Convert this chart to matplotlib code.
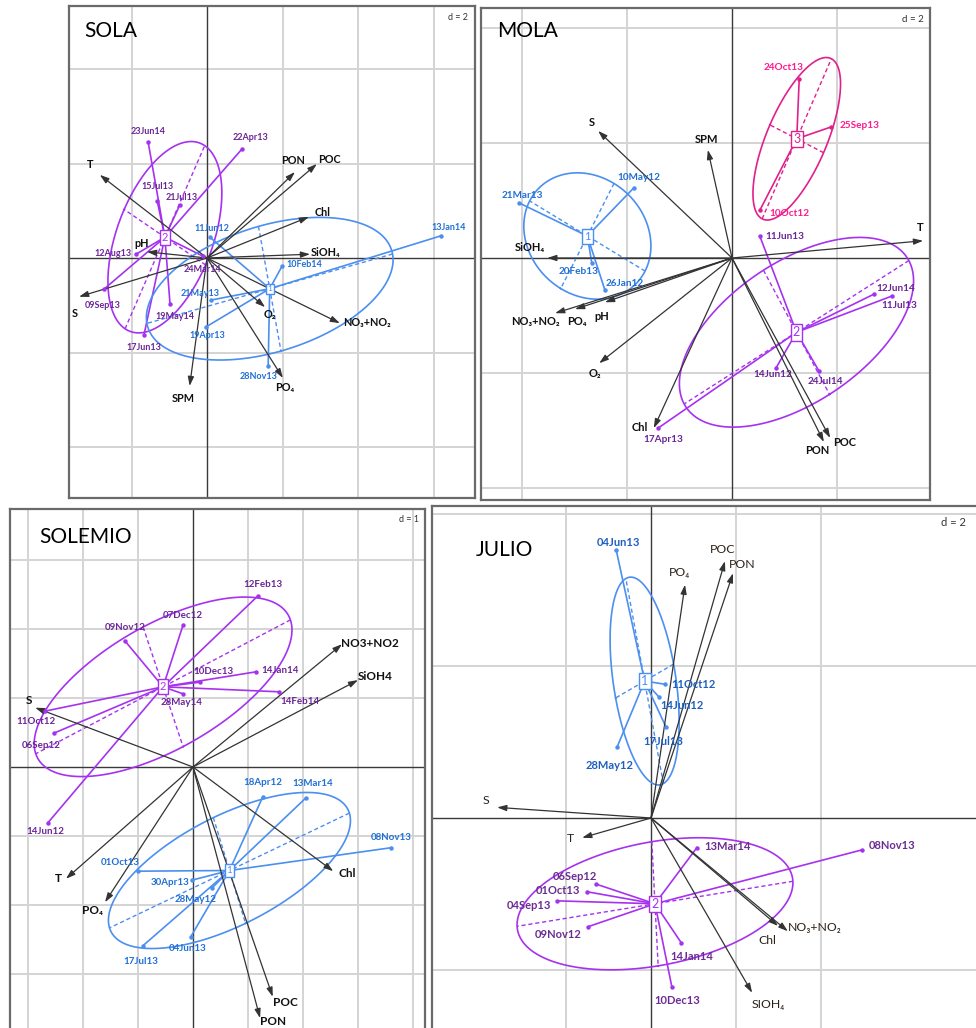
import numpy as np
import matplotlib
matplotlib.use('Agg')
import matplotlib.pyplot as plt

plt.rcParams['font.family'] = ['Lato', 'DejaVu Sans']

W, H = 976, 1028

BLUE, BLUE_TXT = '#4b8ff0', '#1f6fd6'
PURPLE, PURPLE_TXT = '#a632f0', '#6a2596'
PINK, PINK_TXT = '#e0208c', '#ff1a8c'
ARROW = '#333333'

# ---------------- SOLA ----------------
sola_vars = ['T', 'S', 'pH', 'SPM', 'PON', 'POC', 'Chl', 'SiOH₄', 'O₂', 'NO₃+NO₂', 'PO₄']
sola_var_x = [-2.84, -3.39, -1.59, -0.46, 2.33, 2.91, 2.70, 2.73, 1.54, 3.52, 2.01]
sola_var_y = [1.76, -0.82, 0.13, -2.71, 1.82, 1.99, 0.87, 0.08, -1.04, -1.38, -2.54]

sola_g1_dates = ['11Jun12', '13Jan14', '10Feb14', '21May13', '19Apr13', '28Nov13']
sola_g1_x = [0.08, 6.20, 1.99, 0.11, -0.03, 1.62]
sola_g1_y = [0.44, 0.47, -0.17, -0.89, -1.46, -2.29]

sola_g2_dates = ['23Jun14', '22Apr13', '15Jul13', '21Jul13', '12Aug13',
                 '09Sep13', '17Jun13', '19May14', '24Mar14']
sola_g2_x = [-1.56, 0.93, -1.32, -0.72, -1.88, -2.73, -1.67, -0.98, -0.11]
sola_g2_y = [2.46, 2.31, 1.21, 1.12, 0.08, -0.66, -1.63, -0.97, 0.04]

# ---------------- MOLA ----------------
mola_vars = ['S', 'SPM', 'SiOH₄', 'NO₃+NO₂', 'PO₄', 'pH', 'O₂', 'Chl', 'T', 'PON', 'POC']
mola_var_x = [-2.55, -0.46, -3.52, -3.37, -2.99, -2.42, -2.53, -1.49, 3.64, 1.75, 1.87]
mola_var_y = [2.21, 1.88, 0.0, -0.96, -0.89, -0.77, -1.83, -2.96, 0.30, -3.20, -3.13]

mola_g1_dates = ['21Mar13', '10May12', '20Feb13', '26Jan12']
mola_g1_x = [-4.06, -1.87, -2.67, -2.42]
mola_g1_y = [0.96, 1.22, -0.09, -0.56]

mola_g2_dates = ['11Jun13', '12Jun14', '11Jul13', '14Jun12', '24Jul14', '17Apr13']
mola_g2_x = [0.53, 2.70, 3.05, 0.84, 1.66, -1.41]
mola_g2_y = [0.38, -0.63, -0.66, -1.91, -1.97, -2.96]

mola_g3_dates = ['24Oct13', '25Sep13', '10Oct12']
mola_g3_x = [1.28, 1.89, 0.53]
mola_g3_y = [3.11, 2.28, 0.83]

# ---------------- SOLEMIO ----------------
solemio_vars = ['S', 'NO3+NO2', 'SiOH4', 'T', 'PO₄', 'Chl', 'POC', 'PON']
solemio_var_x = [-2.87, 2.71, 3.00, -2.31, -1.60, 2.55, 1.45, 1.22]
solemio_var_y = [0.86, 1.78, 1.26, -1.62, -1.96, -1.51, -3.33, -3.64]

solemio_g1_dates = ['18Apr12', '13Mar14', '08Nov13', '01Oct13', '30Apr13',
                    '28May12', '04Jun13', '17Jul13']
solemio_g1_x = [1.27, 2.05, 3.60, -1.00, -0.02, 0.35, -0.04, -0.91]
solemio_g1_y = [-0.43, -0.45, -1.17, -1.51, -1.64, -1.75, -2.46, -2.59]

solemio_g2_dates = ['12Feb13', '07Dec12', '09Nov12', '10Dec13', '14Jan14',
                    '14Feb14', '28May14', '11Oct12', '06Sep12', '14Jun12']
solemio_g2_x = [1.18, -0.18, -1.24, 0.13, 1.15, 1.56, -0.18, -2.69, -2.53, -2.64]
solemio_g2_y = [2.48, 2.06, 1.83, 1.23, 1.38, 1.09, 1.06, 0.81, 0.49, -0.81]

# ---------------- JULIO ----------------
julio_vars = ['PO₄', 'POC', 'PON', 'S', 'T', 'Chl', 'NO₃+NO₂', 'SIOH₄']
julio_var_x = [0.80, 1.74, 1.93, -3.62, -1.62, 2.99, 3.22, 2.38]
julio_var_y = [3.07, 3.38, 3.22, 0.14, -0.26, -1.42, -1.49, -2.30]

julio_g1_dates = ['04Jun13', '11Oct12', '14Jun12', '17Jul13', '28May12']
julio_g1_x = [-0.82, 0.33, 0.19, 0.35, -0.80]
julio_g1_y = [3.53, 1.76, 1.59, 1.20, 0.93]

julio_g2_dates = ['13Mar14', '08Nov13', '06Sep12', '01Oct13', '04Sep13',
                  '09Nov12', '14Jan14', '10Dec13']
julio_g2_x = [1.08, 4.96, -1.29, -1.51, -2.21, -1.48, 0.71, 0.49]
julio_g2_y = [-0.39, -0.42, -0.87, -0.97, -1.09, -1.43, -1.64, -2.22]

# label offsets in pixels (dx, dy up), layout only
sola_nudge = {
    'T': (-10, 10), 'S': (-4, -17), 'pH': (-5, 8), 'SPM': (-6, -12), 'PON': (-2, 12),
    'POC': (13, 4), 'Chl': (14, 4), 'SiOH₄': (15, 2), 'O₂': (5, -7), 'NO₃+NO₂': (27, 1),
    'PO₄': (2, -9),
    '23Jun14': (0, 10), '22Apr13': (8, 11), '15Jul13': (0, 14), '21Jul13': (2, 8),
    '12Aug13': (-23, 1), '09Sep13': (-1, -16), '17Jun13': (0, -12), '19May14': (5, -13),
    '24Mar14': (0, -13),
    '11Jun12': (2, 9), '13Jan14': (8, 8), '10Feb14': (22, 2), '21May13': (-11, 7),
    '19Apr13': (1, -9), '28Nov13': (-10, -10),
}
mola_nudge = {
    'S': (-6, 8), 'SPM': (-1, 10), 'SiOH₄': (-17, 11), 'NO₃+NO₂': (-20, -8), 'PO₄': (2, -12),
    'pH': (-3, -14), 'O₂': (-4, -10), 'Chl': (-14, 1), 'T': (-3, 13), 'PON': (-7, -8),
    'POC': (14, -5),
    '21Mar13': (3, 7), '10May12': (5, 10), '20Feb13': (-13, -8), '26Jan12': (20, 7),
    '24Oct13': (-16, 12), '25Sep13': (28, 1), '10Oct12': (30, -3),
    '11Jun13': (25, 0), '12Jun14': (22, 6), '11Jul13': (7, -10), '14Jun12': (-3, -7),
    '24Jul14': (6, -10), '17Apr13': (5, -11),
}
solemio_nudge = {
    'S': (-6, 7), 'NO3+NO2': (28, 1), 'SiOH4': (17, 4), 'T': (-8, 0), 'PO₄': (-12, -8),
    'Chl': (14, -2), 'POC': (13, -6), 'PON': (13, -3),
    '12Feb13': (5, 11), '07Dec12': (0, 9), '09Nov12': (0, 13), '10Dec13': (13, 11),
    '14Jan14': (24, 1), '14Feb14': (21, -10), '28May14': (-2, -9), '11Oct12': (-9, -10),
    '06Sep12': (-13, -12), '14Jun12': (-3, -9),
    '18Apr12': (0, 14), '13Mar14': (7, 15), '08Nov13': (0, 10), '01Oct13': (-18, 9),
    '30Apr13': (-22, -2), '28May12': (-17, -12), '04Jun13': (-3, -12), '17Jul13': (-2, -16),
}
julio_nudge = {
    'PO₄': (-6, 12), 'POC': (-2, 12), 'PON': (9, 9), 'S': (-11, 7), 'T': (-12, -1),
    'Chl': (-11, -15), 'NO₃+NO₂': (27, 4), 'SIOH₄': (16, -12),
    '04Jun13': (2, 7), '11Oct12': (28, 0), '14Jun12': (23, -8), '17Jul13': (-3, -15),
    '28May12': (-7, -18),
    '13Mar14': (31, 1), '08Nov13': (30, 4), '06Sep12': (-21, 8), '01Oct13': (-29, 1),
    '04Sep13': (-28, -5), '09Nov12': (-30, -8), '14Jan14': (11, -14), '10Dec13': (5, -14),
}


def make_panel(fig, frame, origin, unit, d, xgrid=None, ygrid=None):
    l, t, r, b = frame
    ox, oy = origin
    ux, uy = unit
    ax = fig.add_axes([l / W, 1 - b / H, (r - l) / W, (b - t) / H])
    x0, x1 = (l - ox) / ux, (r - ox) / ux
    y0, y1 = (oy - b) / uy, (oy - t) / uy
    ax.set_xlim(x0, x1)
    ax.set_ylim(y0, y1)
    if xgrid is None:
        xgrid = [v for v in np.arange(np.ceil(x0 / d) * d, x1, d) if abs(v) > 1e-9]
    if ygrid is None:
        ygrid = [v for v in np.arange(np.ceil(y0 / d) * d, y1, d) if abs(v) > 1e-9]
    for v in xgrid:
        ax.axvline(v, color='#d4d4d4', lw=1.4, zorder=0)
    for v in ygrid:
        ax.axhline(v, color='#d4d4d4', lw=1.4, zorder=0)
    ax.axhline(0, color='#3a3a3a', lw=1.0, zorder=1)
    ax.axvline(0, color='#3a3a3a', lw=1.0, zorder=1)
    ax.set_xticks([])
    ax.set_yticks([])
    for s in ax.spines.values():
        s.set_color('#6a6a6a')
        s.set_linewidth(1.6)
    return ax


def draw_vars(ax, names, xs, ys, nudge, fs, weight='bold', color='#111111'):
    for n, x, y in zip(names, xs, ys):
        ax.annotate('', xy=(x, y), xytext=(0, 0),
                    arrowprops=dict(arrowstyle='-|>,head_length=0.55,head_width=0.18',
                                    color=ARROW, lw=0.9, shrinkA=0, shrinkB=0),
                    zorder=3)
        dx, dy = nudge.get(n, (0, 0))
        ax.annotate(n, (x, y), xytext=(dx, dy), textcoords='offset pixels',
                    ha='center', va='center', fontsize=fs, fontweight=weight,
                    color=color, zorder=6)


def draw_group(ax, dates, xs, ys, num, color, txt_color, nudge, fs, box_fs=8):
    xs = np.asarray(xs, float)
    ys = np.asarray(ys, float)
    cx, cy = xs.mean(), ys.mean()
    pts = np.column_stack([xs - cx, ys - cy])
    cov = pts.T @ pts / len(xs)
    vals, vecs = np.linalg.eigh(cov)
    vals = np.clip(vals, 0, None)
    tt = np.linspace(0, 2 * np.pi, 240)
    circ = np.vstack([np.cos(tt), np.sin(tt)])
    ell = vecs @ (1.5 * np.sqrt(vals)[:, None] * circ)
    ax.plot(cx + ell[0], cy + ell[1], color=color, lw=1.2, zorder=2)
    for k in range(2):
        a = 1.5 * np.sqrt(vals[k]) * vecs[:, k]
        ax.plot([cx - a[0], cx + a[0]], [cy - a[1], cy + a[1]], color=color,
                lw=1.0, ls=(0, (3, 2)), zorder=2)
    for dt, x, y in zip(dates, xs, ys):
        ax.plot([cx, x], [cy, y], color=color, lw=1.2, zorder=2)
        ax.plot(x, y, 'o', ms=3.2, color=color, mec='none', zorder=4)
        dx, dy = nudge.get(dt, (0, 10))
        ax.annotate(dt, (x, y), xytext=(dx, dy), textcoords='offset pixels',
                    ha='center', va='center', fontsize=fs, fontweight='bold',
                    color=txt_color, zorder=6)
    ax.text(cx, cy, str(num), ha='center', va='center', fontsize=box_fs, color=color,
            bbox=dict(boxstyle='square,pad=0.18', fc='white', ec=color, lw=1.0),
            zorder=5)


def fig_text(fig, px, py, s, **kw):
    fig.text(px / W, 1 - py / H, s, **kw)


fig = plt.figure(figsize=(W / 100, H / 100), dpi=100)

# SOLA
ax = make_panel(fig, (69, 6, 475, 498), (207, 258), (37.75, 47.25), 2)
draw_group(ax, sola_g2_dates, sola_g2_x, sola_g2_y, 2, PURPLE, PURPLE_TXT, sola_nudge, 6.5)
draw_group(ax, sola_g1_dates, sola_g1_x, sola_g1_y, 1, BLUE, BLUE_TXT, sola_nudge, 6.5, box_fs=6)
draw_vars(ax, sola_vars, sola_var_x, sola_var_y, sola_nudge, 7.8)
fig_text(fig, 84, 31, 'SOLA', fontsize=15, va='center', ha='left')
fig_text(fig, 468, 18, 'd = 2', fontsize=6.5, va='center', ha='right', color='#333333')

# MOLA
ax = make_panel(fig, (481, 8, 930, 500), (732, 258), (52.5, 57.5), 2)
draw_group(ax, mola_g1_dates, mola_g1_x, mola_g1_y, 1, BLUE, BLUE_TXT, mola_nudge, 7.2)
draw_group(ax, mola_g2_dates, mola_g2_x, mola_g2_y, 2, PURPLE, PURPLE_TXT, mola_nudge, 7.2, box_fs=9)
draw_group(ax, mola_g3_dates, mola_g3_x, mola_g3_y, 3, PINK, PINK_TXT, mola_nudge, 7.2, box_fs=9)
draw_vars(ax, mola_vars, mola_var_x, mola_var_y, mola_nudge, 8)
fig_text(fig, 497, 31, 'MOLA', fontsize=15, va='center', ha='left')
fig_text(fig, 924, 19, 'd = 2', fontsize=7, va='center', ha='right', color='#333333')

# SOLEMIO
ax = make_panel(fig, (10, 509, 425, 1040), (193, 767), (55, 69), 1)
draw_group(ax, solemio_g2_dates, solemio_g2_x, solemio_g2_y, 2, PURPLE, PURPLE_TXT, solemio_nudge, 7)
draw_group(ax, solemio_g1_dates, solemio_g1_x, solemio_g1_y, 1, BLUE, BLUE_TXT, solemio_nudge, 7, box_fs=7)
draw_vars(ax, solemio_vars, solemio_var_x, solemio_var_y, solemio_nudge, 8.5)
fig_text(fig, 39, 537, 'SOLEMIO', fontsize=15, va='center', ha='left')
fig_text(fig, 419, 520, 'd = 1', fontsize=6.5, va='center', ha='right', color='#333333')

# JULIO
ax = make_panel(fig, (432, 506, 990, 1040), (651, 818), (42.5, 76), 2, xgrid=[-2, 2, 4])
draw_group(ax, julio_g1_dates, julio_g1_x, julio_g1_y, 1, BLUE, '#1f5fc0', julio_nudge, 8, box_fs=9)
draw_group(ax, julio_g2_dates, julio_g2_x, julio_g2_y, 2, PURPLE, '#6b2c91', julio_nudge, 8, box_fs=9)
draw_vars(ax, julio_vars, julio_var_x, julio_var_y, julio_nudge, 8.8, weight='normal',
          color='#2b2118')
fig_text(fig, 476, 550, 'JULIO', fontsize=15, va='center', ha='left')
fig_text(fig, 966, 522, 'd = 2', fontsize=8, va='center', ha='right', color='#333333')

fig.savefig('out.png', dpi=100, facecolor='white')
